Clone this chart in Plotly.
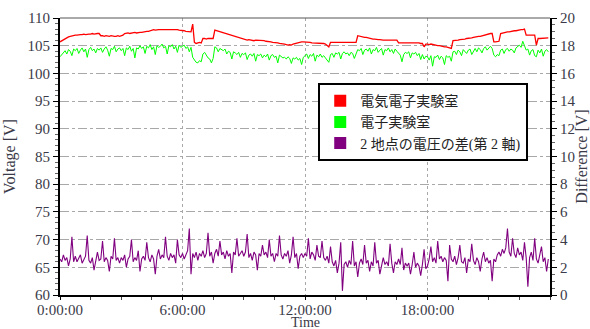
import numpy as np
import plotly.graph_objects as go

# time axis: 5-minute samples, in hours
n_samples = 288
time_h = np.arange(n_samples) * 5 / 60.0

red_v = [
    105.7, 105.9, 106.1, 106.3, 106.5, 106.6, 106.7, 106.8, 106.8, 106.9, 106.9, 107.0,
    107.0, 107.0, 107.1, 107.0, 107.1, 107.1, 107.1, 107.2, 107.1, 107.2, 107.2, 107.2,
    106.8, 106.8, 106.7, 106.8, 106.7, 106.7, 106.8, 106.7, 106.7, 106.7, 106.8, 106.7,
    106.8, 106.9, 107.2, 107.3, 107.3, 107.2, 107.3, 107.3, 107.4, 107.3, 107.4, 107.4,
    107.4, 107.5, 107.5, 107.6, 107.6, 107.7, 107.8, 107.9, 107.8, 107.9, 107.9, 107.9,
    107.9, 108.0, 107.9, 108.0, 107.9, 108.0, 108.0, 107.9, 108.0, 107.9, 107.8, 107.8,
    107.7, 107.7, 107.6, 107.6, 107.5, 107.5, 108.9, 105.6, 105.4, 105.5, 105.6, 105.5,
    106.3, 106.3, 106.2, 106.3, 106.3, 106.2, 106.3, 107.8, 107.7, 107.6, 107.5, 107.4,
    107.3, 107.2, 107.1, 107.0, 106.9, 106.8, 106.7, 106.6, 106.5, 106.4, 106.3, 106.2,
    106.1, 106.1, 106.0, 106.1, 106.0, 106.0, 105.9, 106.0, 106.0, 105.9, 106.0, 105.9,
    105.9, 105.8, 105.8, 105.7, 105.7, 105.6, 105.6, 105.5, 105.5, 105.4, 105.4, 105.3,
    105.3, 105.2, 105.1, 105.2, 105.1, 105.3, 105.4, 105.5, 105.5, 105.6, 105.7, 105.7,
    105.7, 105.7, 105.6, 105.6, 105.5, 105.5, 105.5, 105.4, 105.5, 105.4, 105.5, 105.4,
    105.3, 105.0, 104.8, 105.6, 105.6, 105.5, 105.6, 105.5, 105.6, 105.5, 105.5, 105.6,
    105.5, 105.5, 105.6, 105.5, 105.6, 105.5, 105.6, 106.8, 106.7, 106.7, 106.6, 106.5,
    106.5, 106.4, 106.3, 106.3, 106.2, 106.2, 106.1, 106.1, 106.1, 106.0, 106.0, 106.0,
    106.0, 106.1, 106.0, 106.0, 106.0, 106.0, 106.0, 105.5, 105.5, 105.6, 105.5, 105.5,
    105.5, 105.6, 105.5, 105.5, 105.5, 105.6, 105.5, 105.5, 105.4, 105.4, 104.8, 105.3,
    105.3, 105.2, 105.3, 105.2, 105.1, 105.1, 105.0, 105.0, 104.9, 104.9, 104.8, 104.8,
    104.7, 104.6, 104.5, 105.9, 105.9, 106.0, 106.0, 106.1, 106.1, 106.2, 106.2, 106.3,
    106.3, 106.4, 106.4, 106.5, 106.6, 106.6, 106.7, 106.7, 106.8, 106.8, 106.9, 107.0,
    107.1, 107.2, 107.2, 105.7, 105.7, 105.7, 105.8, 107.2, 107.3, 107.3, 107.4, 107.5,
    107.5, 107.6, 107.6, 107.7, 107.7, 107.8, 107.8, 107.9, 107.9, 108.0, 106.9, 106.9,
    106.9, 106.9, 106.8, 106.9, 105.1, 106.3, 106.3, 106.3, 106.4, 106.3, 106.3, 106.4,
]

green_v = [
    103.0, 103.4, 103.8, 104.1, 103.5, 104.3, 104.0, 103.2, 104.4, 104.1, 104.5, 103.6,
    104.2, 104.6, 103.9, 104.4, 102.9, 104.3, 104.7, 104.1, 104.4, 103.7, 104.5, 104.2,
    104.6, 103.8, 104.4, 104.8, 104.2, 103.1, 104.5, 104.3, 104.9, 103.9, 104.4, 104.6,
    104.1, 104.5, 103.2, 104.6, 104.3, 104.9, 104.0, 104.5, 102.8, 104.6, 104.4, 105.0,
    104.5, 104.8, 103.6, 104.9, 104.6, 105.2, 104.3, 104.8, 103.4, 105.0, 104.7, 104.9,
    105.3, 104.6, 104.9, 103.5, 105.0, 104.8, 105.2, 104.4, 104.9, 103.8, 105.1, 104.7,
    104.9, 105.1, 104.5, 104.8, 103.9, 104.7, 102.9, 102.5, 102.0, 101.9, 102.3, 102.1,
    103.5, 103.8, 103.2, 102.8, 102.6, 101.9, 102.7, 104.8, 104.6, 103.9, 104.5, 104.3,
    104.1, 104.4, 103.5, 104.0, 103.8, 102.6, 103.9, 103.7, 103.4, 103.8, 102.9, 103.6,
    103.4, 103.7, 102.5, 103.3, 103.5, 103.1, 103.6, 102.2, 103.4, 103.2, 103.5, 102.8,
    103.3, 103.0, 103.5, 102.4, 103.2, 103.4, 102.9, 103.1, 101.9, 103.3, 103.0, 102.8,
    102.9, 102.6, 103.0, 102.7, 101.8, 102.8, 102.6, 102.9, 102.4, 102.7, 101.6, 102.9,
    103.2, 103.5, 102.7, 103.4, 103.1, 103.6, 102.2, 103.3, 103.0, 103.5, 102.9, 103.2,
    102.8, 102.3, 102.0, 103.4, 103.6, 102.9, 103.7, 103.5, 103.8, 102.6, 103.6, 103.9,
    103.5, 103.7, 103.2, 103.8, 103.6, 102.7, 103.7, 104.3, 104.1, 104.5, 103.4, 104.2,
    104.4, 104.0, 104.6, 103.5, 104.3, 104.1, 104.7, 103.8, 104.2, 104.5, 103.3, 104.3,
    104.1, 104.6, 103.9, 104.3, 103.6, 104.4, 104.0, 103.6, 103.3, 102.1, 103.4, 103.8,
    103.6, 103.9, 102.8, 103.7, 103.5, 103.8, 103.2, 103.6, 102.5, 103.4, 102.6, 103.1,
    103.0, 102.4, 103.2, 101.3, 103.0, 102.9, 103.3, 102.5, 103.1, 102.8, 101.6, 103.2,
    102.9, 103.1, 102.2, 103.9, 104.0, 103.4, 104.2, 103.9, 103.2, 104.3, 104.0, 103.6,
    104.2, 104.4, 103.4, 104.1, 104.5, 103.9, 104.6, 104.3, 103.7, 104.5, 104.8, 104.2,
    104.6, 104.9, 104.5, 103.3, 103.0, 103.4, 103.2, 104.2, 104.4, 103.6, 104.3, 104.5,
    104.0, 104.4, 104.2, 103.7, 104.6, 104.8, 105.1, 104.7, 105.8, 105.0, 104.2, 104.4,
    103.3, 104.1, 104.3, 103.2, 103.0, 104.2, 103.7, 104.4, 103.1, 104.0, 104.3, 103.9,
]

diff_v = [
    2.6, 2.4, 2.9, 2.5, 2.7, 2.1, 2.6, 4.2, 2.4, 2.8, 2.4, 2.7,
    2.9, 2.3, 2.6, 2.8, 4.3, 2.5, 2.3, 2.7, 1.8, 2.6, 3.1, 2.5,
    2.6, 3.9, 2.4, 2.7, 2.5, 1.7, 2.8, 2.6, 4.1, 2.5, 2.7, 2.3,
    2.7, 2.5, 2.9, 2.0, 2.6, 2.8, 4.0, 2.4, 2.7, 2.5, 3.2, 1.7,
    2.6, 2.8, 2.5, 3.8, 2.7, 2.4, 2.9, 2.6, 1.5, 2.8, 3.3, 2.6,
    2.9, 2.7, 4.2, 2.8, 2.5, 3.0, 2.7, 2.9, 2.3, 4.0, 2.9, 2.7,
    3.0, 2.6, 2.9, 3.2, 4.8, 1.5, 3.0, 2.7, 3.1, 2.5, 3.0, 2.8,
    3.2, 2.7, 3.0, 4.5, 2.8, 3.1, 2.3, 3.0, 3.3, 2.8, 3.9, 2.9,
    3.1, 2.6, 3.2, 2.8, 3.0, 1.6, 3.1, 2.9, 4.1, 2.8, 3.0, 3.2,
    2.8, 3.1, 4.4, 2.7, 3.0, 2.5, 3.1, 2.9, 1.8, 3.0, 2.8, 3.6,
    2.9, 3.1, 2.7, 4.0, 2.8, 3.0, 2.4, 3.0, 2.8, 4.3, 2.9, 2.6,
    3.0, 2.8, 3.2, 2.3, 2.9, 4.2, 2.7, 3.0, 1.9, 2.8, 3.0, 2.7,
    3.0, 2.8, 4.1, 2.6, 3.1, 2.9, 2.5, 3.6, 2.8, 2.7, 3.9, 2.7,
    2.5, 2.8, 2.3, 3.5, 2.4, 2.1, 2.5, 1.6, 2.3, 3.8, 0.3, 2.2,
    2.4, 2.0, 2.5, 2.2, 3.9, 2.1, 2.4, 1.3, 2.3, 2.6, 2.2, 3.6,
    2.3, 2.5, 1.7, 2.4, 2.1, 3.8, 2.3, 2.5, 1.5, 2.2, 2.7, 2.2,
    2.4, 2.1, 3.7, 2.3, 1.6, 2.4, 2.2, 2.6, 2.2, 3.4, 1.8, 2.3,
    2.1, 2.3, 1.5, 2.2, 3.1, 2.0, 2.3, 2.1, 1.4, 2.2, 3.3, 1.9,
    2.1, 2.6, 3.5, 2.4, 2.7, 2.3, 3.9, 2.6, 2.8, 2.4, 2.7, 2.5,
    1.0, 3.6, 2.6, 2.4, 2.8, 2.2, 2.7, 3.6, 2.4, 2.3, 2.7, 1.6,
    2.6, 2.4, 3.7, 2.5, 2.2, 2.7, 2.4, 1.7, 2.6, 3.1, 2.4, 2.7,
    2.3, 2.5, 1.0, 2.6, 2.4, 2.9, 3.1, 2.8, 3.3, 3.0, 3.4, 4.8,
    3.1, 2.8, 4.1, 3.0, 2.7, 3.4, 2.9, 3.1, 2.5, 3.8, 2.7, 0.6,
    2.7, 3.1, 2.5, 4.1, 2.6, 2.3, 2.8, 3.5, 2.4, 2.7, 1.7, 2.6,
]

series_names = ["電気電子実験室", "電子実験室", "2 地点の電圧の差(第 2 軸)"]
series_colors = ["#ff0000", "#00ff00", "#800080"]
x_tick_vals = [0, 6, 12, 18]
x_tick_text = ["0:00:00", "6:00:00", "12:00:00", "18:00:00"]
x_title = "Time"

FONT = "Liberation Serif"
LEGEND_FONT = "Liberation Serif, Noto Sans CJK JP"
TXT = "#3a3a48"

fig = go.Figure()
fig.add_trace(go.Scatter(x=time_h, y=diff_v, yaxis="y2", mode="lines",
                         line=dict(color=series_colors[2], width=1.1), showlegend=False))
fig.add_trace(go.Scatter(x=time_h, y=green_v, mode="lines",
                         line=dict(color=series_colors[1], width=1), showlegend=False))
fig.add_trace(go.Scatter(x=time_h, y=red_v, mode="lines",
                         line=dict(color=series_colors[0], width=1.3), showlegend=False))
for name, col in zip(series_names, series_colors):
    fig.add_trace(go.Scatter(x=[None], y=[None], mode="markers", name=name,
                             marker=dict(symbol="square", size=11, color=col)))

fig.update_layout(
    width=590, height=329,
    margin=dict(l=60, r=40, t=18, b=34, pad=0, autoexpand=False),
    paper_bgcolor="white", plot_bgcolor="white",
    font=dict(family=FONT, size=15, color=TXT),
    xaxis=dict(range=[0, 24], tickvals=x_tick_vals, ticktext=x_tick_text,
               showline=True, linecolor="black", linewidth=2,
               ticks="outside", ticklen=3, tickcolor="black",
               ticklabelstandoff=-3,
               tickfont=dict(family=FONT, size=15, color=TXT),
               showgrid=True, gridcolor="#a8a8a8", griddash="dot", gridwidth=1,
               minor=dict(dtick=1.5, tick0=0, ticks="outside", ticklen=3, tickcolor="#444", showgrid=False),
               zeroline=False),
    yaxis=dict(range=[60, 110], dtick=5, tick0=60,
               showline=True, linecolor="black", linewidth=2,
               ticks="outside", ticklen=5, tickcolor="black",
               tickfont=dict(family=FONT, size=15, color=TXT),
               showgrid=True, gridcolor="#a8a8a8", griddash="dashdot", gridwidth=1,
               minor=dict(dtick=1, ticks="outside", ticklen=3, tickcolor="#666", showgrid=False),
               zeroline=False,
               title=dict(text="Voltage [V]", standoff=8, font=dict(family=FONT, size=16, color=TXT))),
    yaxis2=dict(range=[0, 20], dtick=2, overlaying="y", side="right",
                showline=True, linecolor="black", linewidth=2,
                ticks="outside", ticklen=5, tickcolor="black",
                tickfont=dict(family=FONT, size=15, color=TXT),
                minor=dict(dtick=0.5, ticks="outside", ticklen=3, tickcolor="#666"),
                showgrid=False, zeroline=False,
                title=dict(text="Difference [V]", standoff=4, font=dict(family=FONT, size=16, color=TXT))),
    legend=dict(x=0.527, y=0.765, xanchor="left", yanchor="top",
                bgcolor="white", bordercolor="black", borderwidth=2,
                font=dict(family=LEGEND_FONT, size=14, color="#222"), itemsizing="constant",
                tracegroupgap=0),
    shapes=[dict(type="line", xref="paper", yref="paper", x0=0, x1=1, y0=1, y1=1,
                 line=dict(color="#555", width=1))],
    annotations=[dict(text=x_title, xref="paper", yref="paper", x=0.5, y=-0.0975,
                      xanchor="center", yanchor="middle", showarrow=False,
                      borderpad=0, font=dict(family=FONT, size=14, color=TXT))],
)

fig.write_html("out.html", config={"displayModeBar": False},
               post_script="document.body.style.margin='0';document.body.style.padding='0';")
